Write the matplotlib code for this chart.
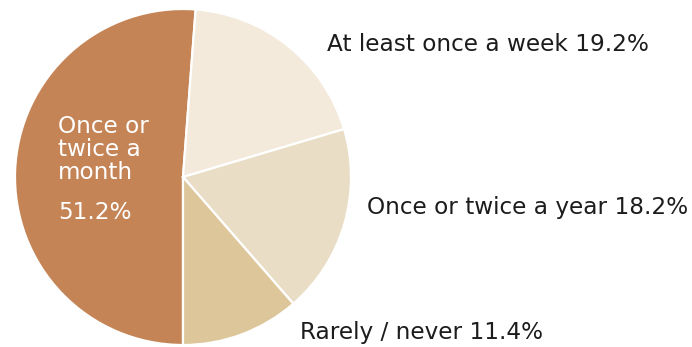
import matplotlib.pyplot as plt

labels = ['Once or twice a month', 'At least once a week', 'Once or twice a year', 'Rarely / never']
shares = [51.2, 19.2, 18.2, 11.4]
colors = ['#C48456', '#F3EADC', '#E9DDC5', '#DDC699']

plt.rcParams['font.family'] = ['DejaVu Sans']

fig = plt.figure(figsize=(6.92, 3.47), dpi=100)
ax = fig.add_axes([0, 0, 1, 1])

# pie sits in pixel space: centre and radius in figure pixels (y up)
cx, cy, r = 183, 170, 168
wedges, _ = ax.pie(shares, colors=colors, startangle=-90, counterclock=False,
                   center=(cx, cy), radius=r, frame=True,
                   wedgeprops=dict(edgecolor='white', linewidth=1.6))
ax.set_xlim(0, 692)
ax.set_ylim(0, 347)
ax.axis('off')

dark = '#1c1c1c'
fs = 16.7
ax.text(58, 347 - 149, 'Once or\ntwice a\nmonth', color='white', fontsize=fs,
        ha='left', va='center', linespacing=1.0)
ax.text(58, 347 - 212, f'{shares[0]}%', color='white', fontsize=fs,
        ha='left', va='center')
ax.text(327, 347 - 44, f'{labels[1]} {shares[1]}%', color=dark, fontsize=fs,
        ha='left', va='center')
ax.text(367, 347 - 207, f'{labels[2]} {shares[2]}%', color=dark, fontsize=fs,
        ha='left', va='center')
ax.text(300, 347 - 333, f'{labels[3]} {shares[3]}%', color=dark, fontsize=fs,
        ha='left', va='center')

fig.savefig('out.png', dpi=100)
